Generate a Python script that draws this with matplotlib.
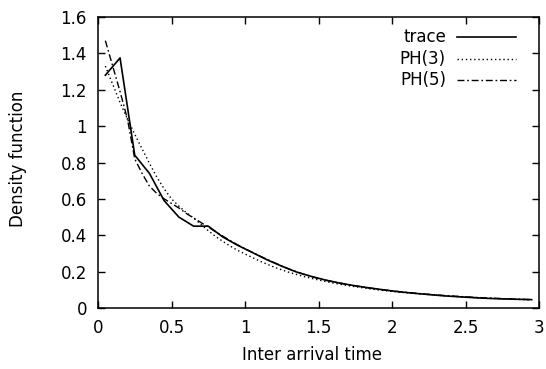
import matplotlib
matplotlib.use("Agg")
import matplotlib.pyplot as plt
from matplotlib.lines import Line2D
from matplotlib.ticker import FuncFormatter

# empirical density (histogram of the trace, bin centres)
trace_x = [0.05, 0.15, 0.25, 0.35, 0.45, 0.55, 0.65, 0.75, 0.85, 0.95,
           1.05, 1.15, 1.25, 1.35, 1.45, 1.55, 1.65, 1.75, 1.85, 1.95,
           2.05, 2.15, 2.25, 2.35, 2.45, 2.55, 2.65, 2.75, 2.85, 2.95]
trace_y = [1.28, 1.375, 0.84, 0.74, 0.59, 0.50, 0.45, 0.45, 0.39, 0.345,
           0.305, 0.265, 0.23, 0.198, 0.174, 0.153, 0.136, 0.122, 0.110, 0.099,
           0.089, 0.081, 0.074, 0.067, 0.062, 0.057, 0.053, 0.050, 0.048, 0.046]

# fitted phase-type densities
ph3_x = [0.05, 0.10, 0.15, 0.20, 0.25, 0.30, 0.35, 0.40, 0.45, 0.50,
         0.55, 0.60, 0.65, 0.70, 0.75, 0.80, 0.85, 0.90, 0.95, 1.00,
         1.10, 1.20, 1.30, 1.40, 1.50, 1.60, 1.70, 1.80, 1.90, 2.00,
         2.20, 2.40, 2.60, 2.80, 2.95]
ph3_y = [1.33, 1.23, 1.13, 1.04, 0.955, 0.875, 0.795, 0.72, 0.655, 0.60,
         0.56, 0.525, 0.495, 0.46, 0.425, 0.393, 0.366, 0.34, 0.317, 0.297,
         0.258, 0.224, 0.196, 0.173, 0.154, 0.137, 0.123, 0.111, 0.100, 0.091,
         0.077, 0.065, 0.056, 0.049, 0.045]

ph5_x = [0.05, 0.10, 0.15, 0.20, 0.25, 0.30, 0.35, 0.40, 0.45, 0.50,
         0.55, 0.60, 0.65, 0.70, 0.75, 0.80, 0.85, 0.90, 0.95, 1.00,
         1.10, 1.20, 1.30, 1.40, 1.50, 1.60, 1.70, 1.80, 1.90, 2.00,
         2.20, 2.40, 2.60, 2.80, 2.95]
ph5_y = [1.47, 1.33, 1.19, 1.04, 0.82, 0.74, 0.67, 0.63, 0.60, 0.575,
         0.55, 0.52, 0.495, 0.47, 0.445, 0.42, 0.395, 0.37, 0.347, 0.326,
         0.286, 0.249, 0.214, 0.185, 0.162, 0.144, 0.129, 0.115, 0.104, 0.094,
         0.078, 0.066, 0.057, 0.050, 0.046]

labels = ["trace", "PH(3)", "PH(5)"]
styles = ["-", (0, (1, 2)), (0, (5, 2, 1.2, 2))]
widths = [1.2, 1.0, 1.0]

plt.rcParams["font.family"] = "DejaVu Sans"
plt.rcParams["font.size"] = 12

fig = plt.figure(figsize=(5.46, 3.69), dpi=100)
ax = fig.add_axes([98 / 546, 1 - 308 / 369, 441 / 546, 291 / 369])

series = [(trace_x, trace_y), (ph3_x, ph3_y), (ph5_x, ph5_y)]
for (xs, ys), ls, lw in zip(series, styles, widths):
    ax.plot(xs, ys, color="black", linestyle=ls, linewidth=lw)

ax.set_xlim(0, 3)
ax.set_ylim(0, 1.6)
ax.set_xticks([0, 0.5, 1, 1.5, 2, 2.5, 3])
ax.set_yticks([0, 0.2, 0.4, 0.6, 0.8, 1.0, 1.2, 1.4, 1.6])
fmt = FuncFormatter(lambda v, p: "%g" % round(v, 2))
ax.xaxis.set_major_formatter(fmt)
ax.yaxis.set_major_formatter(fmt)
ax.tick_params(direction="in", length=5, width=1, top=True, right=True,
               pad=8, labelsize=12)
for s in ax.spines.values():
    s.set_linewidth(1.1)

ax.set_xlabel("Inter arrival time")
ax.xaxis.set_label_coords(0.485, -0.16)
ax.xaxis.label.set_va("center")
ax.set_ylabel("Density function")
ax.yaxis.set_label_coords(-0.181, 0.512)
ax.yaxis.label.set_va("center")

# gnuplot-style key: right-aligned text, sample line to the right
rows = [0.930, 0.856, 0.784]
for lab, ls, lw, yy in zip(labels, styles, widths, rows):
    ax.text(0.789, yy, lab, transform=ax.transAxes, ha="right", va="center")
    ax.add_line(Line2D([0.814, 0.948], [yy, yy], transform=ax.transAxes,
                       color="black", linestyle=ls, linewidth=lw))

fig.savefig("out.png", dpi=100)
